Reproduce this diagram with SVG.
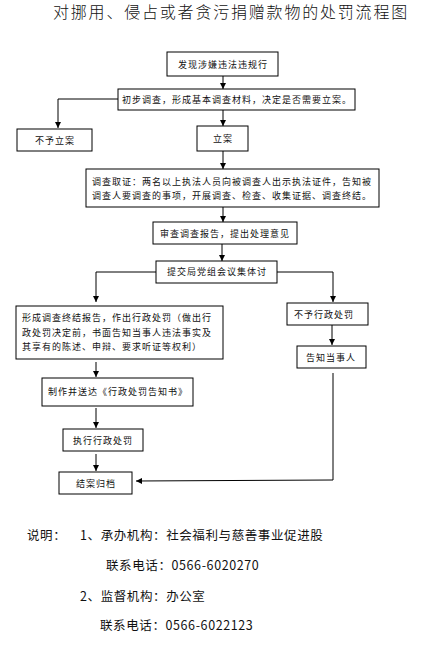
<svg xmlns="http://www.w3.org/2000/svg" width="421" height="661" viewBox="0 0 421 661">
<style>
.box{fill:#fff;stroke:#000;stroke-width:1}
.t{font-family:"Noto Sans CJK SC","Noto Sans",sans-serif;font-size:9px;letter-spacing:1px;fill:#111}
.c{text-anchor:middle}
.ln{fill:none;stroke:#000;stroke-width:1}
.title{font-family:"Noto Sans CJK SC","Noto Sans",sans-serif;font-size:16px;letter-spacing:1.8px;fill:#111;font-weight:300}
.note{font-family:"Noto Sans CJK SC","Noto Sans",sans-serif;font-size:12.5px;letter-spacing:0.6px;fill:#111}
</style>
<defs>
<marker id="ah" viewBox="0 0 10 10" refX="10" refY="5" markerWidth="6" markerHeight="6" markerUnits="userSpaceOnUse" orient="auto">
<path d="M0,0 L10,5 L0,10 z" fill="#000"/>
</marker>
</defs>
<rect width="421" height="661" fill="#fff"/>
<text class="title" x="53" y="18">对挪用、侵占或者贪污捐赠款物的处罚流程图</text>

<g id="connectors">
<line class="ln" x1="223" y1="76" x2="223" y2="89" marker-end="url(#ah)"/>
<polyline class="ln" points="118,99 58,99 58,128" marker-end="url(#ah)"/>
<line class="ln" x1="223" y1="110" x2="223" y2="126" marker-end="url(#ah)"/>
<line class="ln" x1="223" y1="151" x2="223" y2="169" marker-end="url(#ah)"/>
<line class="ln" x1="223" y1="207" x2="223" y2="222" marker-end="url(#ah)"/>
<line class="ln" x1="222" y1="244" x2="222" y2="261" marker-end="url(#ah)"/>
<polyline class="ln" points="156,272 96,272 96,302" marker-end="url(#ah)"/>
<polyline class="ln" points="277,272 333,272 333,302" marker-end="url(#ah)"/>
<line class="ln" x1="332" y1="325" x2="332" y2="345" marker-end="url(#ah)"/>
<polyline class="ln" points="333,373 333,480 136,481" marker-end="url(#ah)"/>
<line class="ln" x1="96" y1="362" x2="96" y2="377" marker-end="url(#ah)"/>
<line class="ln" x1="96" y1="408" x2="96" y2="428" marker-end="url(#ah)"/>
<line class="ln" x1="96" y1="454" x2="96" y2="471" marker-end="url(#ah)"/>
</g>

<g id="n1"><rect class="box" x="167" y="52" width="111" height="24"/><text class="t c" x="223" y="67.5">发现涉嫌违法违规行</text></g>
<g id="n2"><rect class="box" x="118" y="89" width="237" height="21"/><text class="t c" x="237" y="103">初步调查，形成基本调查材料，决定是否需要立案。</text></g>
<g id="n3"><rect class="box" x="17" y="129" width="75" height="22"/><text class="t c" x="55" y="143.5">不予立案</text></g>
<g id="n4"><rect class="box" x="197" y="126" width="51" height="25"/><text class="t c" x="223" y="141.5">立案</text></g>
<g id="n5"><rect class="box" x="86" y="169" width="293" height="38"/>
<text class="t" x="92" y="185">调查取证：两名以上执法人员向被调查人出示执法证件，告知被</text>
<text class="t" x="92" y="199">调查人要调查的事项，开展调查、检查、收集证据、调查终结。</text></g>
<g id="n6"><rect class="box" x="153" y="222" width="144" height="22"/><text class="t c" x="225" y="236.5">审查调查报告，提出处理意见</text></g>
<g id="n7"><rect class="box" x="156" y="261" width="121" height="22"/><text class="t c" x="217" y="275">提交局党组会议集体讨</text></g>
<g id="n8"><rect class="box" x="16" y="306" width="207" height="53"/>
<text class="t" x="22" y="321">形成调查终结报告，作出行政处罚（做出行</text>
<text class="t" x="22" y="335.5">政处罚决定前，书面告知当事人违法事实及</text>
<text class="t" x="22" y="350">其享有的陈述、申辩、要求听证等权利）</text></g>
<g id="n9"><rect class="box" x="287" y="303" width="81" height="22"/><text class="t c" x="324" y="317.5">不予行政处罚</text></g>
<g id="n10"><rect class="box" x="297" y="346" width="69" height="22"/><text class="t c" x="331" y="360.5">告知当事人</text></g>
<g id="n11"><rect class="box" x="42" y="378" width="151" height="28"/><text class="t c" x="118" y="395">制作并送达《行政处罚告知书》</text></g>
<g id="n12"><rect class="box" x="63" y="429" width="80" height="22"/><text class="t c" x="103" y="443.5">执行行政处罚</text></g>
<g id="n13"><rect class="box" x="59" y="472" width="73" height="22"/><text class="t c" x="96" y="486.5">结案归档</text></g>

<text class="note" x="27" y="540">说明：</text>
<text class="note" x="80" y="540">1、承办机构：社会福利与慈善事业促进股</text>
<text class="note" x="106" y="570">联系电话：0566-6020270</text>
<text class="note" x="80" y="601">2、监督机构：办公室</text>
<text class="note" x="100" y="630">联系电话：0566-6022123</text>
</svg>
